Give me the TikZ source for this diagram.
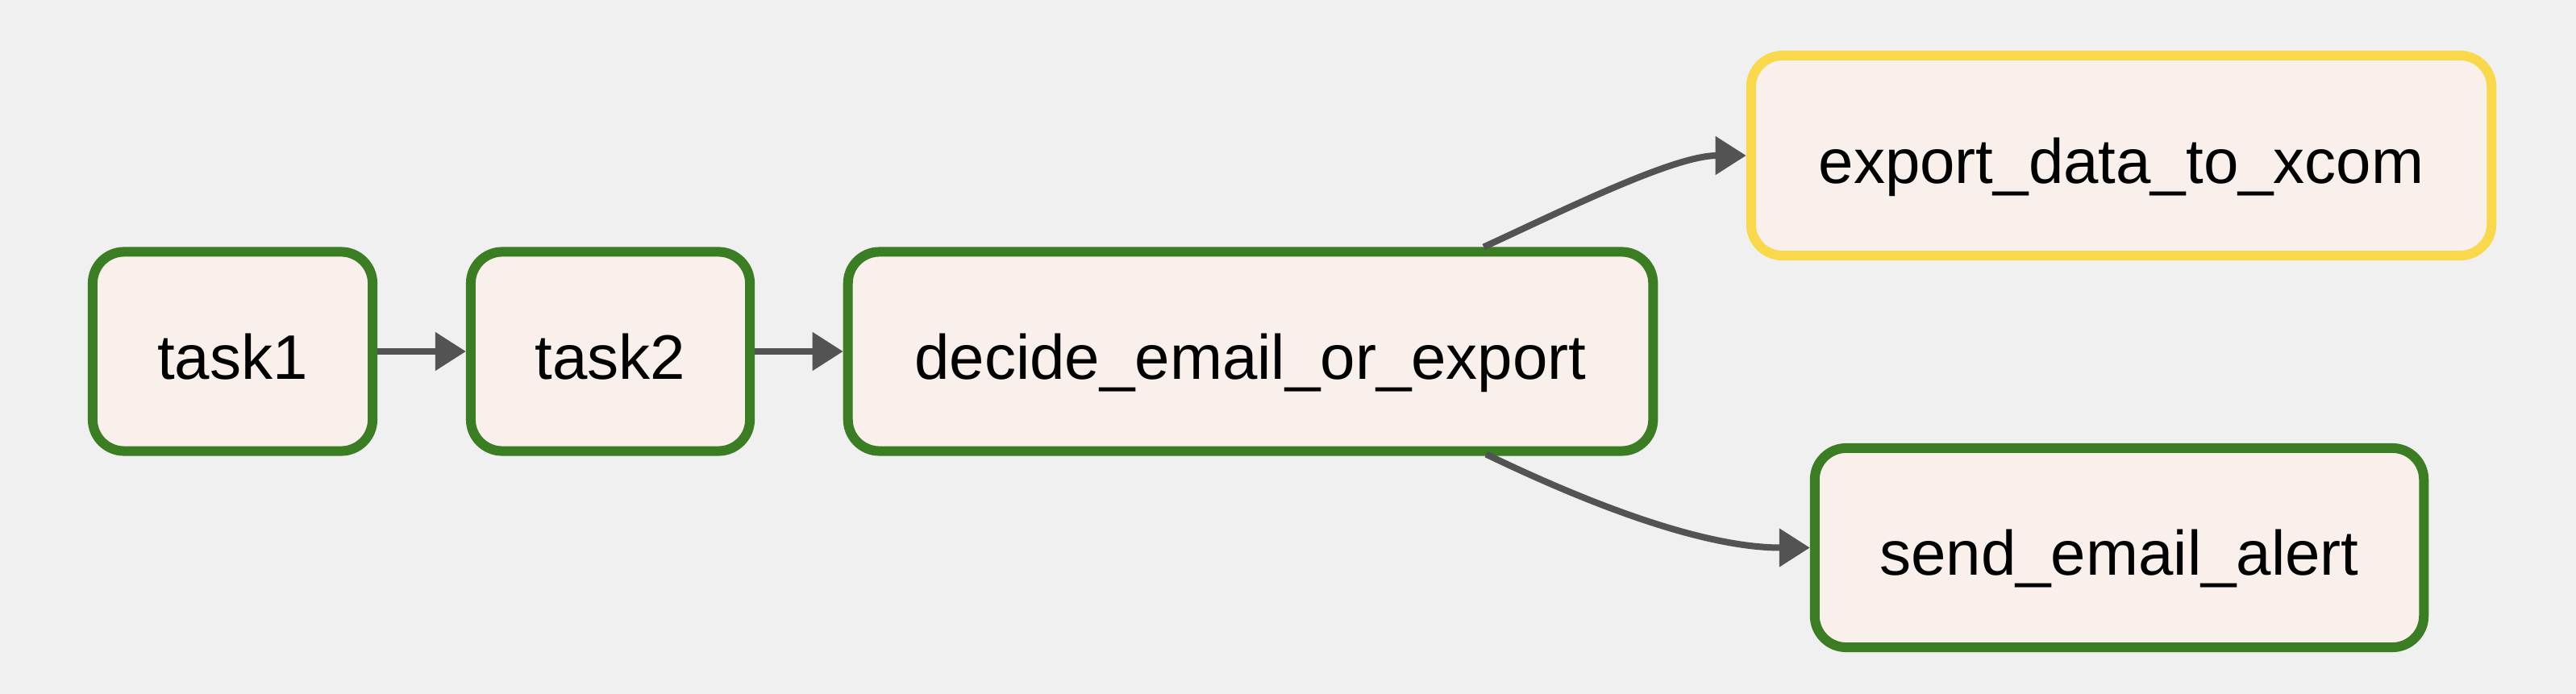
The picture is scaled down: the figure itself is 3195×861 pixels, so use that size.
\documentclass[tikz,border=0pt]{standalone}
\usepackage{fontspec}
\setmainfont{Liberation Sans}
\usetikzlibrary{arrows.meta,calc}
\definecolor{bgc}{HTML}{F0F0F0}
\definecolor{fillc}{HTML}{F9EFEB}
\definecolor{greenc}{HTML}{3A7D23}
\definecolor{yellowc}{HTML}{F9D84B}
\definecolor{edgec}{HTML}{535353}
\tikzset{
  task/.style={draw=greenc, fill=fillc, line width=0.12cm, rounded corners=0.39cm,
    inner sep=0pt, minimum height=2.47cm, text height=0.70cm, text depth=0.02cm,
    font=\fontsize{22.2}{26}\selectfont},
  skipped/.style={task, draw=yellowc},
  edge/.style={draw=edgec, line width=0.08cm, -{Triangle[length=0.38cm,width=0.46cm]}}
}
\begin{document}
\begin{tikzpicture}[x=0.01cm,y=-0.01cm]
\fill[bgc] (0,0) rectangle (3195,861);
\useasboundingbox (0,0) rectangle (3195,861);
\node[task, minimum width=3.47cm] (t1) at (288.5,436) {task1};
\node[task, minimum width=3.46cm] (t2) at (757,436) {task2};
\node[task, minimum width=9.98cm] (dec) at (1551,436) {decide\_email\_or\_export};
\node[skipped, minimum width=9.18cm, minimum height=2.48cm] (exp) at (2631,193) {export\_data\_to\_xcom};
\node[task, minimum width=7.55cm] (send) at (2628.5,679.5) {send\_email\_alert};
\coordinate (dtop) at ([xshift=2.89cm]dec.north);
\coordinate (dbot) at ([xshift=2.92cm,yshift=0.02cm]dec.south);
\draw[edge] (t1) -- (t2);
\draw[edge] (t2) -- (dec);
\draw[edge] (dtop) .. controls ++(100,-46) and ([xshift=-0.9cm]exp.west) .. (exp.west);
\draw[edge] (dbot) .. controls ++(110,53) and ([xshift=-1.4cm]send.west) .. (send.west);
\end{tikzpicture}
\end{document}
